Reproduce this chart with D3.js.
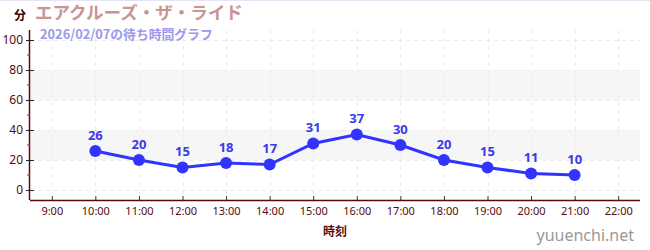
<!DOCTYPE html>
<html><head><meta charset="utf-8">
<script src="https://cdn.jsdelivr.net/npm/d3@7"></script>
<style>html,body{margin:0;padding:0;background:#fff;}svg{display:block;font-family:"Noto Sans CJK JP","Noto Sans",sans-serif;}</style>
</head><body>
<script>
const hours = [10, 11, 12, 13, 14, 15, 16, 17, 18, 19, 20, 21];
const waits = [26, 20, 15, 18, 17, 31, 37, 30, 20, 15, 11, 10];
const xTicks = [9, 10, 11, 12, 13, 14, 15, 16, 17, 18, 19, 20, 21, 22];
const yTicks = [0, 20, 40, 60, 80, 100];
const yMinor = [10, 30, 50, 70, 90];
const bands = [[20, 40], [60, 80]];
const title = "エアクルーズ・ザ・ライド";
const subtitle = "2026/02/07の待ち時間グラフ";

const W = 650, H = 250;
const svg = d3.select("body").append("svg").attr("width", W).attr("height", H);
const L = 30, R = 640, T = 30, B = 200;
const x = d3.scaleLinear().domain([8.5, 22.5]).range([L, R]);
const y = d3.scaleLinear().domain([-6.667, 106.667]).range([B, T]);

svg.append("line").attr("x1",0).attr("x2",W).attr("y1",0.5).attr("y2",0.5).attr("stroke","#e4e4f4");

// bands
svg.selectAll("rect.band").data(bands).join("rect")
  .attr("x", L).attr("width", R - L)
  .attr("y", d => y(d[1])).attr("height", d => y(d[0]) - y(d[1]))
  .attr("fill", "#f6f6f6");

// grid
svg.selectAll("line.hg").data(yTicks).join("line")
  .attr("x1", L).attr("x2", R).attr("y1", d => y(d) + 0.5).attr("y2", d => y(d) + 0.5)
  .attr("stroke", "#ececec").attr("stroke-dasharray", "4,4");
svg.selectAll("line.vg").data(xTicks).join("line")
  .attr("x1", d => Math.round(x(d)) + 0.5).attr("x2", d => Math.round(x(d)) + 0.5)
  .attr("y1", T).attr("y2", B)
  .attr("stroke", "#ececec").attr("stroke-dasharray", "4,4");

// axes
const axColor = "#5a0a0a";
const yAxis = svg.append("g").attr("transform", `translate(${L},0)`)
  .call(d3.axisLeft(y).tickValues(yTicks).tickSize(4).tickPadding(3));
yAxis.select(".domain").attr("stroke", axColor).attr("stroke-width", 1.5).attr("d", `M-0.5,${T}V${B}`);
yAxis.selectAll(".tick line").attr("stroke", "#222").attr("x2", 4).attr("x1", -4);
yAxis.selectAll(".tick text").attr("fill", axColor).style("font-size", "12px").style("font-family", "'Noto Sans',sans-serif");
svg.append("g").selectAll("line").data(yMinor).join("line")
  .attr("x1", L - 3).attr("x2", L).attr("y1", d => y(d)).attr("y2", d => y(d))
  .attr("stroke", "#d02020");

const xAxis = svg.append("g").attr("transform", `translate(0,${B})`)
  .call(d3.axisBottom(x).tickValues(xTicks).tickFormat(d => d + ":00").tickSize(4).tickPadding(3));
xAxis.select(".domain").attr("stroke", axColor).attr("stroke-width", 1.5).attr("d", `M${L},0.5H${R}`);
xAxis.selectAll(".tick line").attr("stroke", "#333").attr("y1", -4).attr("y2", 0);
xAxis.selectAll(".tick text").attr("fill", axColor).style("font-size", "11px").style("font-family", "'Noto Sans',sans-serif");

// line
const line = d3.line().x((d, i) => x(hours[i])).y(d => y(d));
svg.append("path").datum(waits).attr("d", line)
  .attr("fill", "none").attr("stroke", "#3333ff").attr("stroke-width", 3);
svg.selectAll("circle.pt").data(waits).join("circle")
  .attr("cx", (d, i) => x(hours[i])).attr("cy", d => y(d)).attr("r", 6)
  .attr("fill", "#3333ff");
svg.selectAll("text.lbl").data(waits).join("text")
  .attr("x", (d, i) => x(hours[i])).attr("y", d => y(d) - 11)
  .attr("text-anchor", "middle").attr("fill", "#3a3ae8")
  .style("font-size", "13px").style("font-weight", "bold").style("font-family", "'Noto Sans',sans-serif")
  .text(d => d);

// titles
svg.append("text").attr("x", 14).attr("y", 20).attr("fill", "#3a0000")
  .style("font-size", "12px").style("font-weight", "bold").text("分");
svg.append("text").attr("x", 35).attr("y", 18.5).attr("fill", "#c89494")
  .style("font-size", "17.5px").style("font-weight", "bold").text(title);
svg.append("text").attr("x", 40).attr("y", 38.5).attr("fill", "#9999ee")
  .style("font-size", "12.8px").style("font-weight", "bold").text(subtitle);
svg.append("text").attr("x", 335).attr("y", 236).attr("text-anchor", "middle").attr("fill", axColor)
  .style("font-size", "12px").style("font-weight", "bold").text("時刻");
svg.append("text").attr("x", 634).attr("y", 241).attr("text-anchor", "end").attr("fill", "#999")
  .style("font-size", "16px").style("font-family", "'Noto Sans',sans-serif").text("yuuenchi.net");
</script>
</body></html>
